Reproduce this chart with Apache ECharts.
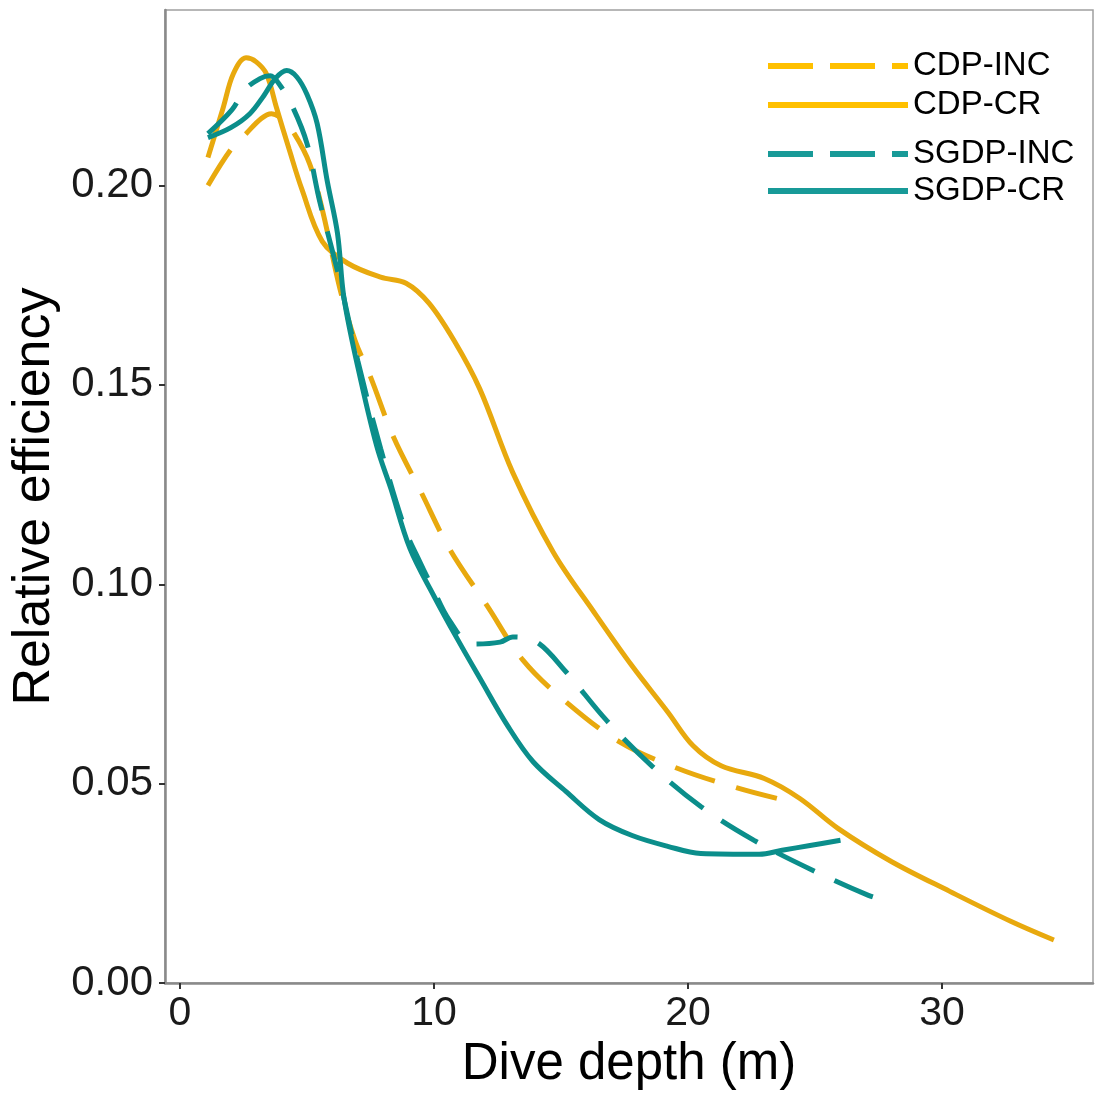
<!DOCTYPE html>
<html style="height: 100%">
   <head>
       <meta charset="utf-8">
   </head>
   <body style="height: 100%; margin: 0; background: #fff">
       <div id="container" style="width: 1096px; height: 1095px"></div>
       <script type="text/javascript" src="https://cdn.jsdelivr.net/npm/echarts@6/dist/echarts.min.js"></script>
       <script type="text/javascript">
            // values (dive depth in m, relative efficiency)
            var cdpCrX = [1.1, 1.7, 2.1, 2.6, 3.0, 3.4, 3.8, 4.3, 4.8, 5.6, 6.6, 7.9, 8.9, 9.8, 10.8, 11.8, 13.1, 14.7, 16.3, 17.8, 19.2, 20.2, 21.3, 23.0, 24.4, 25.9, 28.0, 30.3, 32.7, 34.4];
            var cdpCrY = [0.207, 0.2195, 0.228, 0.232, 0.231, 0.228, 0.2195, 0.209, 0.199, 0.186, 0.1805, 0.177, 0.1755, 0.1705, 0.161, 0.149, 0.128, 0.108, 0.093, 0.0795, 0.068, 0.0595, 0.0545, 0.0513, 0.0463, 0.0388, 0.0305, 0.023, 0.0155, 0.0108];

            var cdpIncX = [1.1, 2.0, 2.6, 3.2, 3.6, 4.0, 4.5, 5.1, 5.6, 6.3, 6.9, 7.5, 8.4, 9.5, 10.6, 12.1, 13.5, 15.2, 17.3, 19.6, 21.9, 23.5];
            var cdpIncY = [0.200, 0.209, 0.213, 0.2168, 0.218, 0.2168, 0.213, 0.2055, 0.194, 0.174, 0.161, 0.152, 0.137, 0.123, 0.109, 0.0945, 0.081, 0.0705, 0.0605, 0.0538, 0.049, 0.0463];

            var sgdpCrX = [1.1, 2.0, 2.75, 3.3, 3.75, 4.2, 4.6, 5.0, 5.4, 5.8, 6.2, 6.45, 7.0, 7.75, 8.3, 9.05, 10.0, 10.9, 11.8, 12.9, 13.9, 15.2, 16.5, 17.8, 19.2, 20.5, 22.8, 23.7, 24.8, 26.0];
            var sgdpCrY = [0.212, 0.2145, 0.218, 0.2225, 0.2268, 0.2288, 0.2272, 0.2228, 0.2155, 0.201, 0.188, 0.172, 0.1545, 0.1345, 0.124, 0.109, 0.097, 0.0865, 0.0765, 0.0645, 0.0555, 0.048, 0.041, 0.037, 0.0343, 0.0325, 0.0323, 0.0333, 0.0345, 0.0358];

            var sgdpIncX = [1.1, 2.05, 2.55, 3.15, 3.55, 3.95, 4.45, 5.0, 5.5, 6.3, 7.0, 7.9, 8.85, 9.45, 9.95, 10.6, 11.5, 12.6, 13.1, 14.05, 15.2, 16.8, 18.6, 20.5, 22.6, 24.9, 27.1, 27.9];
            var sgdpIncY = [0.213, 0.219, 0.224, 0.2268, 0.2275, 0.225, 0.2195, 0.2105, 0.196, 0.176, 0.156, 0.134, 0.114, 0.1055, 0.099, 0.091, 0.085, 0.0855, 0.0868, 0.0855, 0.078, 0.0658, 0.0543, 0.0443, 0.0358, 0.0283, 0.022, 0.0205];

            var xTicks = [0, 10, 20, 30];
            var yTicks = [0, 0.05, 0.10, 0.15, 0.20];

            var orange = '#E8A90E';
            var teal = '#0B8E8B';

            function pairs(xs, ys) {
                var out = [];
                for (var i = 0; i < xs.length; i++) {
                    out.push([xs[i], ys[i]]);
                }
                return out;
            }

            function curve(name, xs, ys, color, dashed) {
                return {
                    name: name,
                    type: 'line',
                    data: pairs(xs, ys),
                    smooth: 0.35,
                    symbol: 'none',
                    lineStyle: {
                        color: color,
                        width: 5,
                        type: dashed ? [42, 22] : 'solid',
                        cap: 'butt'
                    },
                    itemStyle: {color: color}
                };
            }

            function legendItem(name, color, dashed) {
                return {
                    name: name,
                    itemStyle: {opacity: 0},
                    lineStyle: {color: color, width: 6, type: dashed ? [45, 17] : 'solid'}
                };
            }

            var legendText = {
                color: '#000',
                fontFamily: 'Liberation Sans, Arial, sans-serif',
                fontSize: 33,
                lineHeight: 36
            };

            var dom = document.getElementById("container");
            var myChart = echarts.init(dom, null, {renderer: 'canvas'});
            var option = {
                backgroundColor: '#fff',
                animation: false,
                grid: {
                    left: 165,
                    right: 3,
                    top: 10,
                    bottom: 110,
                    show: true,
                    borderColor: '#a0a0a0',
                    borderWidth: 1.5
                },
                legend: [{
                    left: 765,
                    top: 48,
                    padding: 0,
                    orient: 'vertical',
                    itemWidth: 140,
                    itemHeight: 36,
                    itemGap: 3,
                    textStyle: legendText,
                    data: [
                        legendItem('CDP-INC', '#FFC000', true),
                        legendItem('CDP-CR', '#FFC000', false)
                    ]
                }, {
                    left: 765,
                    top: 136,
                    padding: 0,
                    orient: 'vertical',
                    itemWidth: 140,
                    itemHeight: 36,
                    itemGap: 1,
                    textStyle: legendText,
                    data: [
                        legendItem('SGDP-INC', '#189A98', true),
                        legendItem('SGDP-CR', '#189A98', false)
                    ]
                }],
                xAxis: {
                    type: 'value',
                    min: -0.59,
                    max: 35.94,
                    name: 'Dive depth (m)',
                    nameLocation: 'middle',
                    nameGap: 52,
                    nameTextStyle: {
                        color: '#000',
                        fontFamily: 'Liberation Sans, Arial, sans-serif',
                        fontSize: 51
                    },
                    splitLine: {show: false},
                    axisLine: {show: true, onZero: false, lineStyle: {color: '#8a8a8a', width: 2.5}},
                    axisTick: {show: true, length: 6, customValues: xTicks, lineStyle: {color: '#333', width: 2}},
                    axisLabel: {
                        customValues: xTicks,
                        margin: 10,
                        color: '#1a1a1a',
                        fontFamily: 'Liberation Sans, Arial, sans-serif',
                        fontSize: 41
                    }
                },
                yAxis: {
                    type: 'value',
                    min: 0,
                    max: 0.244,
                    name: 'Relative efficiency',
                    nameLocation: 'middle',
                    nameGap: 102,
                    nameTextStyle: {
                        color: '#000',
                        fontFamily: 'Liberation Sans, Arial, sans-serif',
                        fontSize: 52
                    },
                    splitLine: {show: false},
                    axisLine: {show: true, onZero: false, lineStyle: {color: '#8a8a8a', width: 2.5}},
                    axisTick: {show: true, length: 6, customValues: yTicks, lineStyle: {color: '#333', width: 2}},
                    axisLabel: {
                        customValues: yTicks,
                        margin: 12,
                        color: '#1a1a1a',
                        fontFamily: 'Liberation Sans, Arial, sans-serif',
                        fontSize: 42,
                        formatter: function (v) {
                            return v.toFixed(2);
                        }
                    }
                },
                series: [
                    curve('CDP-INC', cdpIncX, cdpIncY, orange, true),
                    curve('CDP-CR', cdpCrX, cdpCrY, orange, false),
                    curve('SGDP-INC', sgdpIncX, sgdpIncY, teal, true),
                    curve('SGDP-CR', sgdpCrX, sgdpCrY, teal, false)
                ]
            };

            myChart.setOption(option);
       </script>
   </body>
</html>
